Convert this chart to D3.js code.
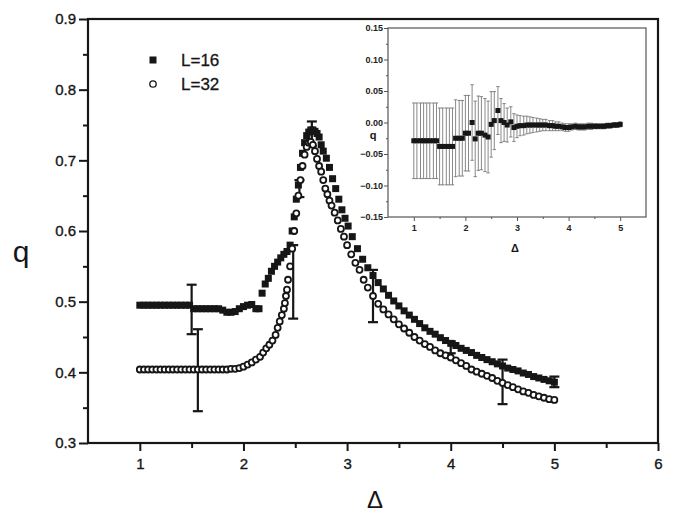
<!DOCTYPE html>
<meta charset="utf-8">
<script src="https://d3js.org/d3.v7.min.js"></script>
<style>
  body { margin: 0; background: #fff; }
  svg { display: block; font-family: 'Liberation Sans', Arial, sans-serif; }
</style>
<body>
<svg width="673" height="513"></svg>
</body>
<script>

// ---- data ----
// L=16 : [delta, q]
var l16 = [
  [1.00,.495],[1.04,.495],[1.08,.495],[1.12,.495],[1.16,.495],[1.20,.495],[1.24,.495],[1.28,.495],
  [1.32,.495],[1.36,.495],[1.40,.495],[1.44,.495],[1.48,.495],[1.52,.490],[1.56,.490],[1.60,.490],
  [1.64,.490],[1.68,.490],[1.72,.490],[1.76,.490],[1.80,.488],[1.84,.485],[1.88,.485],[1.92,.486],
  [1.96,.490],[2.00,.493],[2.04,.495],[2.08,.496],[2.12,.490],[2.15,.490],[2.18,.512],[2.21,.525],
  [2.24,.533],[2.27,.543],[2.30,.550],[2.33,.556],[2.36,.562],[2.39,.567],[2.42,.571],[2.45,.580],
  [2.47,.600],[2.49,.620],[2.51,.645],[2.53,.665],[2.55,.690],[2.57,.710],[2.59,.725],[2.61,.735],
  [2.63,.740],[2.65,.743],[2.67,.743],[2.69,.741],[2.71,.738],[2.73,.733],[2.75,.722],[2.77,.713],
  [2.80,.703],[2.83,.690],[2.86,.674],[2.89,.660],[2.92,.645],[2.95,.630],[2.98,.618],[3.01,.607],
  [3.05,.592],[3.10,.575],[3.15,.560],[3.20,.548],[3.25,.537],[3.30,.527],[3.35,.518],[3.40,.509],
  [3.45,.501],[3.50,.494],[3.55,.487],[3.60,.481],[3.65,.475],[3.70,.469],[3.75,.463],[3.80,.458],
  [3.85,.454],[3.90,.449],[3.95,.445],[4.00,.441],[4.05,.438],[4.10,.434],[4.15,.431],[4.20,.428],
  [4.25,.424],[4.30,.421],[4.35,.418],[4.40,.415],[4.45,.412],[4.50,.409],[4.55,.406],[4.60,.404],
  [4.65,.402],[4.70,.399],[4.75,.397],[4.80,.394],[4.85,.392],[4.90,.390],[4.95,.388],[5.00,.386]
];

// L=32 : [delta, q]
var l32 = [
  [1.00,.404],[1.04,.404],[1.08,.404],[1.12,.404],[1.16,.404],[1.20,.404],[1.24,.404],[1.28,.404],
  [1.32,.404],[1.36,.404],[1.40,.404],[1.44,.404],[1.48,.404],[1.52,.404],[1.56,.404],[1.60,.404],
  [1.64,.404],[1.68,.404],[1.72,.404],[1.76,.404],[1.80,.404],[1.84,.404],[1.88,.405],[1.92,.405],
  [1.96,.406],[2.00,.408],[2.04,.411],[2.08,.414],[2.12,.418],[2.16,.422],[2.19,.428],[2.22,.434],
  [2.25,.439],[2.28,.445],[2.31,.453],[2.33,.463],[2.35,.472],[2.37,.481],[2.39,.490],[2.40,.498],
  [2.41,.508],[2.42,.517],[2.43,.531],[2.45,.550],[2.47,.575],[2.49,.600],[2.51,.625],[2.53,.650],
  [2.55,.672],[2.57,.692],[2.59,.708],[2.61,.719],[2.63,.725],[2.65,.726],[2.67,.722],[2.69,.713],
  [2.71,.702],[2.73,.692],[2.75,.684],[2.77,.672],[2.79,.660],[2.81,.652],[2.83,.643],[2.85,.636],
  [2.88,.626],[2.91,.615],[2.94,.603],[2.97,.592],[3.00,.580],[3.04,.567],[3.08,.555],[3.12,.545],
  [3.16,.531],[3.20,.520],[3.25,.508],[3.30,.497],[3.35,.489],[3.40,.482],[3.45,.475],[3.50,.468],
  [3.55,.462],[3.60,.456],[3.65,.450],[3.70,.445],[3.75,.440],[3.80,.436],[3.85,.431],[3.90,.427],
  [3.95,.424],[4.00,.421],[4.05,.417],[4.10,.413],[4.15,.409],[4.20,.404],[4.25,.401],[4.30,.398],
  [4.35,.395],[4.40,.392],[4.45,.388],[4.50,.385],[4.55,.382],[4.60,.379],[4.65,.376],[4.70,.373],
  [4.75,.371],[4.80,.368],[4.85,.366],[4.90,.364],[4.95,.362],[5.00,.361]
];

// error bars drawn on the main plot : [delta, low, high]
var mainErr = [
  [1.50,.454,.524],[1.56,.345,.461],[2.48,.476,.580],[2.54,.648,.672],[2.66,.720,.755],
  [3.25,.471,.545],[4.00,.427,.444],[4.50,.355,.418],[5.00,.379,.394]
];

// inset: [delta, q, half error]
var inset = [
  [1.00,-.029,.060],[1.06,-.029,.060],[1.13,-.029,.060],[1.19,-.029,.060],[1.25,-.029,.060],
  [1.31,-.029,.060],[1.38,-.029,.060],[1.44,-.029,.060],[1.50,-.038,.061],[1.56,-.038,.061],
  [1.63,-.038,.061],[1.69,-.038,.061],[1.75,-.038,.061],[1.81,-.025,.061],[1.88,-.025,.060],
  [1.94,-.025,.060],[2.00,-.017,.060],[2.06,-.017,.060],[2.13,.000,.060],[2.19,-.026,.060],
  [2.25,-.017,.059],[2.31,-.017,.058],[2.38,-.020,.058],[2.44,-.023,.057],[2.50,-.003,.052],
  [2.56,.003,.046],[2.63,.019,.038],[2.69,.003,.035],[2.75,.000,.030],[2.81,-.004,.027],
  [2.88,.001,.024],[2.94,-.008,.022],[3.00,-.006,.018],[3.06,-.005,.016],[3.13,-.005,.015],
  [3.19,-.004,.014],[3.25,-.004,.013],[3.31,-.004,.012],[3.38,-.004,.011],[3.44,-.004,.010],
  [3.50,-.004,.009],[3.56,-.004,.009],[3.63,-.005,.008],[3.69,-.005,.008],[3.75,-.006,.007],
  [3.81,-.006,.007],[3.88,-.007,.006],[3.94,-.008,.006],[4.00,-.008,.006],[4.06,-.007,.005],
  [4.13,-.006,.005],[4.19,-.007,.005],[4.25,-.007,.005],[4.31,-.007,.005],[4.38,-.006,.005],
  [4.44,-.006,.005],[4.50,-.006,.004],[4.56,-.006,.004],[4.63,-.006,.004],[4.69,-.006,.004],
  [4.75,-.005,.004],[4.81,-.005,.004],[4.88,-.004,.004],[4.94,-.004,.004],[5.00,-.003,.004]
];

var mainXTicks = [1, 2, 3, 4, 5, 6];
var mainYTicks = [0.3, 0.4, 0.5, 0.6, 0.7, 0.8, 0.9];
var insetXTicks = [1, 2, 3, 4, 5];
var insetYTicks = [-0.15, -0.10, -0.05, 0.00, 0.05, 0.10, 0.15];

// ---- main plot ----
var svg = d3.select("svg");
var ink = "#161616";

var x = d3.scaleLinear().domain([0.5, 6]).range([88, 658]);
var y = d3.scaleLinear().domain([0.3, 0.9]).range([443, 19]);

// frame
svg.append("rect")
    .attr("x", x(0.5)).attr("y", y(0.9))
    .attr("width", x(6) - x(0.5)).attr("height", y(0.3) - y(0.9))
    .attr("fill", "none").attr("stroke", ink).attr("stroke-width", 2.2);

// axes
var xAxis = svg.append("g")
    .attr("transform", "translate(0," + y(0.3) + ")")
    .call(d3.axisBottom(x).tickValues(mainXTicks).tickSize(8).tickPadding(7).tickFormat(d3.format("d")));
var xMinor = svg.append("g")
    .attr("transform", "translate(0," + y(0.3) + ")")
    .call(d3.axisBottom(x).tickValues([1.5, 2.5, 3.5, 4.5, 5.5]).tickSize(5).tickFormat(""));
var yAxis = svg.append("g")
    .attr("transform", "translate(" + x(0.5) + ",0)")
    .call(d3.axisLeft(y).tickValues(mainYTicks).tickSize(9).tickPadding(3).tickFormat(d3.format(".1f")));
var yMinor = svg.append("g")
    .attr("transform", "translate(" + x(0.5) + ",0)")
    .call(d3.axisLeft(y).tickValues([0.35, 0.45, 0.55, 0.65, 0.75, 0.85]).tickSize(5).tickFormat(""));

[xAxis, xMinor, yAxis, yMinor].forEach(function(a) {
  a.select(".domain").remove();
  a.selectAll("line").attr("stroke", ink).attr("stroke-width", 2);
  a.selectAll("text").attr("font-size", 15).attr("fill", ink)
    .attr("stroke", ink).attr("stroke-width", 0.35)
    .attr("font-family", "'Liberation Sans', Arial, sans-serif");
});

// error bars (main)
var eb = svg.append("g").attr("stroke", ink).attr("stroke-width", 2.2);
mainErr.forEach(function(d) {
  eb.append("line").attr("x1", x(d[0])).attr("x2", x(d[0])).attr("y1", y(d[1])).attr("y2", y(d[2]));
  eb.append("line").attr("x1", x(d[0]) - 5).attr("x2", x(d[0]) + 5).attr("y1", y(d[1])).attr("y2", y(d[1]));
  eb.append("line").attr("x1", x(d[0]) - 5).attr("x2", x(d[0]) + 5).attr("y1", y(d[2])).attr("y2", y(d[2]));
});

// L=16 squares
svg.append("g").selectAll("rect")
    .data(l16)
  .enter().append("rect")
    .attr("x", function(d) { return x(d[0]) - 3.5; })
    .attr("y", function(d) { return y(d[1]) - 3.5; })
    .attr("width", 7).attr("height", 7)
    .attr("fill", ink);

// L=32 open circles
svg.append("g").selectAll("circle")
    .data(l32)
  .enter().append("circle")
    .attr("cx", function(d) { return x(d[0]); })
    .attr("cy", function(d) { return y(d[1]); })
    .attr("r", 3)
    .attr("fill", "#fff").attr("stroke", ink).attr("stroke-width", 1.8);

// legend
svg.append("rect").attr("x", 149.5).attr("y", 56.5).attr("width", 7).attr("height", 7).attr("fill", ink);
svg.append("circle").attr("cx", 153).attr("cy", 84).attr("r", 3.2)
    .attr("fill", "#fff").attr("stroke", ink).attr("stroke-width", 1.3);
svg.append("text").attr("x", 181).attr("y", 66).attr("font-size", 17).attr("fill", ink)
    .attr("stroke", ink).attr("stroke-width", 0.3).text("L=16");
svg.append("text").attr("x", 181).attr("y", 90).attr("font-size", 17).attr("fill", ink)
    .attr("stroke", ink).attr("stroke-width", 0.3).text("L=32");

// axis titles
svg.append("text").attr("x", 21).attr("y", 262).attr("text-anchor", "middle")
    .attr("font-size", 30).attr("fill", ink).text("q");
svg.append("text").attr("x", 375).attr("y", 508).attr("text-anchor", "middle")
    .attr("font-size", 24).attr("fill", ink).text("Δ");

// ---- inset ----
var ix = d3.scaleLinear().domain([0.5, 5.5]).range([388, 646]);
var iy = d3.scaleLinear().domain([-0.15, 0.15]).range([217, 28]);
var grey = "#555";

svg.append("rect")
    .attr("x", ix(0.5)).attr("y", iy(0.15))
    .attr("width", ix(5.5) - ix(0.5)).attr("height", iy(-0.15) - iy(0.15))
    .attr("fill", "#fff").attr("stroke", grey).attr("stroke-width", 1.2);

var ixAxis = svg.append("g")
    .attr("transform", "translate(0," + iy(-0.15) + ")")
    .call(d3.axisBottom(ix).tickValues(insetXTicks).tickSize(4).tickPadding(4).tickFormat(d3.format("d")));
var ixMinor = svg.append("g")
    .attr("transform", "translate(0," + iy(-0.15) + ")")
    .call(d3.axisBottom(ix).tickValues([1.5, 2.5, 3.5, 4.5]).tickSize(2).tickFormat(""));
var iyAxis = svg.append("g")
    .attr("transform", "translate(" + ix(0.5) + ",0)")
    .call(d3.axisLeft(iy).tickValues(insetYTicks).tickSize(4).tickPadding(1).tickFormat(d3.format(".2f")));
var iyMinor = svg.append("g")
    .attr("transform", "translate(" + ix(0.5) + ",0)")
    .call(d3.axisLeft(iy).tickValues([-0.125, -0.075, -0.025, 0.025, 0.075, 0.125]).tickSize(2).tickFormat(""));

[ixAxis, ixMinor, iyAxis, iyMinor].forEach(function(a) {
  a.select(".domain").remove();
  a.selectAll("line").attr("stroke", grey).attr("stroke-width", 1);
  a.selectAll("text").attr("font-size", 9).attr("font-weight", "bold").attr("fill", "#222")
    .attr("font-family", "'Liberation Sans', Arial, sans-serif");
});

// inset error bars
var ieb = svg.append("g").attr("stroke", "#6a6a6a").attr("stroke-width", 0.8);
inset.forEach(function(d) {
  var lo = d[1] - d[2], hi = d[1] + d[2];
  ieb.append("line").attr("x1", ix(d[0])).attr("x2", ix(d[0])).attr("y1", iy(lo)).attr("y2", iy(hi));
  ieb.append("line").attr("x1", ix(d[0]) - 1.7).attr("x2", ix(d[0]) + 1.7).attr("y1", iy(lo)).attr("y2", iy(lo));
  ieb.append("line").attr("x1", ix(d[0]) - 1.7).attr("x2", ix(d[0]) + 1.7).attr("y1", iy(hi)).attr("y2", iy(hi));
});

svg.append("g").selectAll("rect")
    .data(inset)
  .enter().append("rect")
    .attr("x", function(d) { return ix(d[0]) - 2.5; })
    .attr("y", function(d) { return iy(d[1]) - 2.5; })
    .attr("width", 5).attr("height", 5)
    .attr("fill", ink);

svg.append("text").attr("x", 373).attr("y", 139).attr("text-anchor", "middle")
    .attr("font-size", 11).attr("font-weight", "bold").attr("fill", ink).text("q");
svg.append("text").attr("x", 515).attr("y", 252).attr("text-anchor", "middle")
    .attr("font-size", 11).attr("font-weight", "bold").attr("fill", ink).text("Δ");

</script>
